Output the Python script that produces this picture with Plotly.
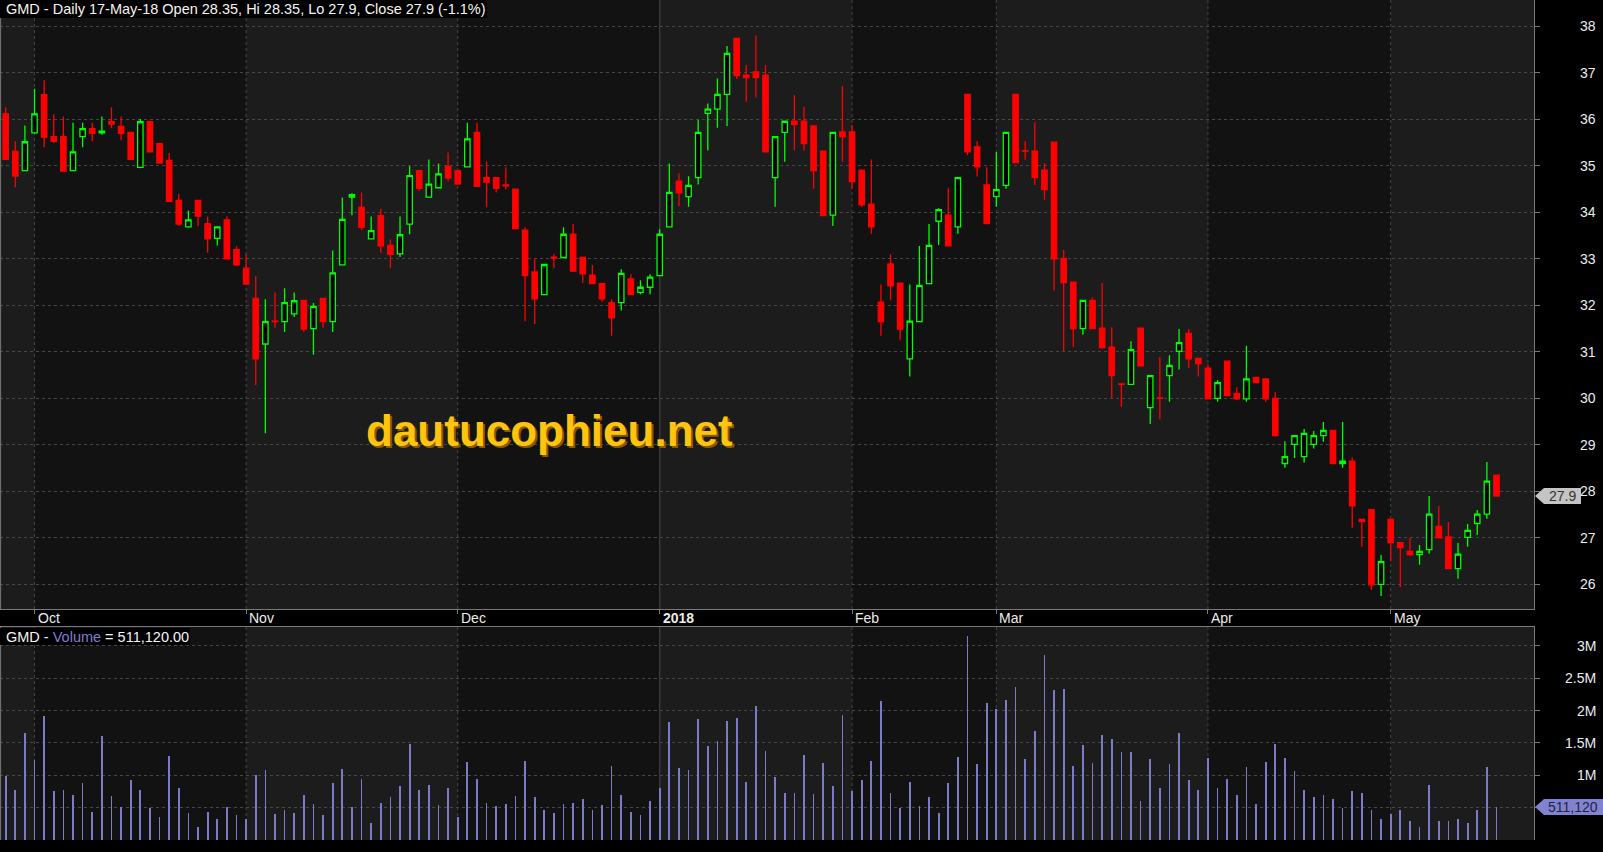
import plotly.graph_objects as go

# ---------------- data (daily bars, index 0 = 27-Sep-2017 ... 155 = 17-May-2018) -------------
opens = [36.12, 35.31, 34.90, 35.71, 36.53, 35.63, 35.63, 34.90, 35.63, 35.80,
         35.71, 35.95, 35.85, 35.72, 34.97, 35.95, 35.48, 35.12, 34.26, 33.69,
         34.26, 33.76, 33.44, 33.84, 33.20, 32.80, 32.15, 31.17, 31.66, 31.65,
         31.82, 32.11, 31.50, 32.15, 31.65, 32.87, 34.33, 34.11, 33.43, 33.93,
         33.29, 33.11, 33.75, 34.90, 34.33, 34.53, 34.99, 34.90, 34.98, 35.72,
         34.75, 34.75, 34.59, 34.50, 33.62, 32.72, 32.23, 33.04, 33.03, 33.53,
         33.03, 32.65, 32.47, 32.06, 32.06, 32.57, 32.28, 32.39, 32.64, 33.69,
         34.67, 34.34, 34.75, 36.13, 36.22, 36.54, 37.74, 36.95, 37.02, 36.95,
         34.75, 35.72, 35.96, 35.96, 35.86, 35.32, 33.94, 35.73, 35.73, 34.91,
         34.18, 32.07, 32.89, 32.48, 30.85, 31.65, 32.47, 33.81, 33.94, 33.69,
         36.54, 35.41, 34.59, 34.34, 34.58, 36.54, 35.33, 35.32, 34.91, 35.51,
         33.01, 32.50, 31.50, 32.11, 31.51, 31.10, 30.31, 30.30, 31.51, 29.80,
         30.01, 30.49, 31.01, 31.40, 30.86, 30.65, 30.00, 30.80, 30.11, 29.99,
         30.45, 30.42, 30.00, 28.60, 29.01, 28.75, 29.01, 29.20, 29.31, 28.60,
         28.65, 27.40, 27.61, 26.00, 27.40, 26.90, 26.71, 26.64, 26.75, 27.25,
         27.02, 26.34, 27.01, 27.31, 27.51, 28.35]
highs = [36.26, 35.53, 35.87, 36.66, 36.84, 36.11, 36.06, 35.93, 35.93, 35.93,
         36.06, 36.26, 36.06, 35.72, 36.01, 35.95, 35.50, 35.28, 34.40, 34.04,
         34.26, 33.91, 33.69, 33.91, 33.27, 33.10, 32.63, 32.13, 32.28, 32.37,
         32.28, 32.11, 32.05, 32.15, 33.18, 34.32, 34.41, 34.43, 33.91, 34.08,
         33.42, 33.91, 35.00, 34.90, 35.14, 35.05, 35.29, 34.90, 35.93, 35.93,
         35.09, 34.75, 34.97, 34.50, 33.68, 33.02, 32.88, 33.10, 33.68, 33.75,
         33.03, 32.87, 32.47, 32.13, 32.78, 32.67, 32.54, 32.67, 33.64, 35.05,
         34.84, 34.78, 35.99, 36.34, 36.88, 37.58, 37.74, 37.17, 37.81, 37.17,
         35.63, 35.96, 36.52, 36.27, 35.87, 35.32, 35.72, 36.72, 35.88, 34.91,
         35.14, 32.45, 33.10, 32.48, 32.45, 33.28, 33.75, 34.09, 34.52, 34.75,
         36.54, 35.53, 34.97, 35.30, 35.72, 36.55, 35.53, 35.94, 35.06, 35.51,
         33.19, 32.50, 32.11, 32.17, 32.48, 31.53, 30.32, 31.23, 31.51, 30.49,
         30.89, 30.93, 31.49, 31.49, 30.86, 30.73, 30.39, 30.80, 30.24, 31.13,
         30.45, 30.42, 30.13, 29.08, 29.20, 29.34, 29.30, 29.49, 29.31, 29.49,
         28.73, 27.40, 27.61, 26.63, 27.40, 26.90, 27.00, 26.85, 27.90, 27.68,
         27.34, 26.89, 27.30, 27.60, 28.63, 28.35]
lows = [35.14, 34.54, 34.90, 35.69, 35.40, 35.49, 34.89, 34.90, 35.40, 35.53,
        35.67, 35.81, 35.55, 35.12, 34.95, 35.30, 35.06, 34.24, 33.71, 33.69,
        33.71, 33.13, 33.29, 33.00, 32.85, 32.46, 30.29, 29.25, 31.52, 31.43,
        31.75, 31.43, 30.94, 31.52, 31.43, 32.87, 33.94, 33.62, 33.43, 33.13,
        32.80, 33.04, 33.53, 34.46, 34.33, 34.53, 34.67, 34.61, 34.98, 34.56,
        34.11, 34.43, 34.50, 33.65, 31.66, 31.60, 32.23, 32.80, 33.03, 32.72,
        32.48, 32.47, 32.08, 31.35, 31.89, 32.23, 32.24, 32.24, 32.64, 33.69,
        34.14, 34.12, 34.60, 35.33, 35.82, 35.86, 36.87, 36.38, 36.47, 35.30,
        34.12, 35.09, 35.33, 35.33, 34.51, 33.93, 33.71, 35.09, 34.51, 34.12,
        33.54, 31.35, 32.11, 31.25, 30.47, 31.65, 32.47, 33.30, 33.28, 33.54,
        35.23, 34.77, 33.76, 34.12, 34.51, 35.07, 35.13, 34.59, 34.27, 32.32,
        31.02, 31.11, 31.37, 31.50, 31.07, 30.01, 29.82, 30.30, 30.70, 29.45,
        29.55, 29.93, 30.62, 30.66, 30.47, 29.99, 29.93, 30.06, 29.96, 29.93,
        30.34, 29.93, 29.18, 28.51, 28.72, 28.62, 28.92, 29.07, 28.60, 28.51,
        27.22, 26.81, 25.88, 25.75, 26.50, 25.94, 26.61, 26.42, 26.66, 27.00,
        26.34, 26.12, 26.81, 27.06, 27.41, 27.90]
closes = [35.14, 34.78, 35.52, 36.12, 35.62, 35.53, 34.89, 35.30, 35.80, 35.70,
          35.75, 35.90, 35.70, 35.14, 35.95, 35.30, 35.06, 34.24, 33.75, 33.84,
          33.92, 33.43, 33.69, 33.00, 32.87, 32.46, 30.85, 31.65, 31.65, 32.06,
          32.10, 31.49, 31.98, 31.65, 32.70, 33.85, 34.38, 33.68, 33.61, 33.28,
          33.10, 33.52, 34.79, 34.52, 34.61, 34.83, 34.74, 34.61, 35.58, 34.56,
          34.65, 34.52, 34.57, 33.65, 32.64, 32.14, 32.88, 33.02, 33.53, 32.74,
          32.68, 32.47, 32.14, 31.73, 32.69, 32.23, 32.39, 32.61, 33.53, 34.43,
          34.42, 34.58, 35.72, 36.22, 36.54, 37.42, 36.94, 36.90, 36.90, 35.30,
          35.63, 35.96, 35.89, 35.48, 34.90, 33.93, 35.72, 35.63, 34.66, 34.16,
          33.69, 31.65, 32.42, 31.49, 31.66, 32.43, 33.29, 34.06, 33.28, 34.75,
          35.30, 34.98, 33.76, 34.49, 35.72, 35.07, 35.32, 34.75, 34.49, 33.00,
          32.49, 31.50, 32.11, 31.50, 31.09, 30.49, 30.30, 31.05, 30.70, 30.49,
          30.00, 30.71, 31.20, 30.85, 30.75, 29.99, 30.34, 30.06, 29.99, 30.42,
          30.34, 29.99, 29.20, 28.75, 29.20, 29.25, 29.20, 29.31, 28.60, 28.65,
          27.69, 27.35, 25.99, 26.49, 26.90, 26.79, 26.64, 26.71, 27.51, 27.00,
          26.34, 26.65, 27.16, 27.51, 28.22, 27.90]
volumes = [990000, 780000, 1660000, 1230000, 1910000, 750000, 780000, 690000, 880000, 440000,
           1600000, 680000, 510000, 920000, 770000, 490000, 350000, 1290000, 810000, 410000,
           200000, 440000, 320000, 510000, 380000, 320000, 1000000, 1080000, 400000, 460000,
           420000, 690000, 550000, 380000, 880000, 1090000, 510000, 940000, 270000, 570000,
           660000, 830000, 1480000, 780000, 850000, 540000, 810000, 350000, 1200000, 940000,
           570000, 520000, 550000, 680000, 1220000, 660000, 460000, 410000, 550000, 570000,
           630000, 470000, 540000, 1150000, 690000, 440000, 380000, 600000, 810000, 1820000,
           1110000, 1080000, 1870000, 1450000, 1530000, 1840000, 1880000, 890000, 2070000, 1370000,
           970000, 720000, 720000, 1320000, 710000, 1190000, 830000, 1930000, 750000, 920000,
           1220000, 2140000, 720000, 490000, 890000, 520000, 660000, 410000, 880000, 1280000,
           3150000, 1170000, 2110000, 2020000, 2160000, 2360000, 1250000, 1680000, 2860000, 2310000,
           2330000, 1140000, 1460000, 1190000, 1620000, 1560000, 1360000, 1360000, 600000, 1250000,
           800000, 1170000, 1660000, 920000, 770000, 1260000, 810000, 940000, 690000, 1120000,
           550000, 1200000, 1490000, 1260000, 1060000, 780000, 660000, 690000, 640000, 490000,
           750000, 720000, 470000, 320000, 400000, 470000, 290000, 200000, 850000, 290000,
           300000, 320000, 260000, 470000, 1120000, 511120]

month_start_idx = [3, 25, 47, 68, 88, 103, 125, 144]
month_labels = ["Oct", "Nov", "Dec", "2018", "Feb", "Mar", "Apr", "May"]
year_label = "2018"
price_ticks = [26, 27, 28, 29, 30, 31, 32, 33, 34, 35, 36, 37, 38]
vol_grid = [500000, 1000000, 1500000, 2000000, 2500000, 3000000]
vol_tick_vals = [1000000, 1500000, 2000000, 2500000, 3000000]
vol_tick_text = ["1M", "1.5M", "2M", "2.5M", "3M"]
title_text = "GMD - Daily 17-May-18 Open 28.35, Hi 28.35, Lo 27.9, Close 27.9 (-1.1%)"
last_close = 27.9
last_close_text = "27.9"
last_volume = 511120
last_volume_text = "511,120"
volume_header = 'GMD - <span style="color:#7f7fd0">Volume</span> = 511,120.00'
watermark = "dautucophieu.net"

# ---------------- geometry / style ----------------
W, H = 1603, 852
ML, MR, MT, MB = 0, 69, 0, 12
PW = W - ML - MR            # plot width in px
PH = H - MT - MB            # plot height in px
XR = [-0.59, 158.9]
PRICE_DOM = [(PH - 609) / PH, 1.0]
VOL_DOM = [0.0, (PH - 627) / PH]
PRICE_RANGE = [25.471, 38.568]
VOL_RANGE = [0, 3.29e6]
FONT = "Liberation Sans, Arial, sans-serif"
GRID = "#464646"
LIGHT_BG = "#1c1c1c"
DARK_BG = "#121212"
AXIS_LINE = "#7a7a7a"
TXT = "#ececec"


def px_x(px):
    return px / PW


def px_y(px):
    return (PH - px) / PH


x = list(range(len(opens)))

fig = go.Figure()
fig.add_trace(go.Candlestick(
    x=x, open=opens, high=highs, low=lows, close=closes,
    increasing=dict(line=dict(color="#00ff00", width=1.3), fillcolor="#000000"),
    decreasing=dict(line=dict(color="#ff0000", width=1.3), fillcolor="#ff0000"),
    whiskerwidth=0, xaxis="x", yaxis="y", showlegend=False, hoverinfo="skip"))
fig.add_trace(go.Bar(
    x=x, y=volumes, width=0.18, marker=dict(color="#7b7bc8", line=dict(width=0)),
    xaxis="x2", yaxis="y2", showlegend=False, hoverinfo="skip"))

shapes = []
bounds = [-1] + month_start_idx + [170]
for k in range(len(bounds) - 1):
    if k % 2 == 0:
        for xr, yr in (("x", "y domain"), ("x2", "y2 domain")):
            shapes.append(dict(type="rect", xref=xr, yref=yr, x0=bounds[k], x1=bounds[k + 1],
                               y0=0, y1=1, fillcolor=LIGHT_BG, line=dict(width=0), layer="below"))
for idx, lab in zip(month_start_idx, month_labels):
    for xr, yr in (("x", "y domain"), ("x2", "y2 domain")):
        if lab == year_label:
            ln = dict(color="#3e3e3e", width=1.3)
        else:
            ln = dict(color=GRID, width=1, dash="dot")
        shapes.append(dict(type="line", xref=xr, yref=yr, x0=idx, x1=idx, y0=0, y1=1,
                           line=ln, layer="below"))
# panel left borders
shapes.append(dict(type="line", xref="paper", yref="paper", x0=0.0004, x1=0.0004,
                   y0=PRICE_DOM[0], y1=1, line=dict(color=AXIS_LINE, width=1)))
shapes.append(dict(type="line", xref="paper", yref="paper", x0=0.0004, x1=0.0004,
                   y0=0, y1=VOL_DOM[1], line=dict(color=AXIS_LINE, width=1)))
# title backgrounds
shapes.append(dict(type="rect", xref="paper", yref="paper", x0=0, x1=px_x(487),
                   y0=px_y(18), y1=1, fillcolor="#000000", line=dict(width=0), layer="above"))
shapes.append(dict(type="rect", xref="paper", yref="paper", x0=0, x1=px_x(190),
                   y0=px_y(645), y1=px_y(628), fillcolor="#000000", line=dict(width=0), layer="above"))
# last value tags
ph = 8 / 46.5
shapes.append(dict(type="path", xref="paper", yref="y",
                   path=f"M {px_x(1535)},{last_close} L {px_x(1544)},{last_close + ph} "
                        f"L {px_x(1581)},{last_close + ph} L {px_x(1581)},{last_close - ph} "
                        f"L {px_x(1544)},{last_close - ph} Z",
                   fillcolor="#c4c4c4", line=dict(width=0), layer="above"))
vh = 8 / 64.74 * 1e6
shapes.append(dict(type="path", xref="paper", yref="y2",
                   path=f"M {px_x(1535)},{last_volume} L {px_x(1544)},{last_volume + vh} "
                        f"L {px_x(1603)},{last_volume + vh} L {px_x(1603)},{last_volume - vh} "
                        f"L {px_x(1544)},{last_volume - vh} Z",
                   fillcolor="#8282d2", line=dict(width=0), layer="above"))

ann = []
ann.append(dict(text=title_text, xref="paper", yref="paper", x=px_x(4), y=px_y(9),
                xanchor="left", yanchor="middle", showarrow=False,
                font=dict(family=FONT, size=14.5, color="#f4f4f4")))
ann.append(dict(text=volume_header, xref="paper", yref="paper", x=px_x(4), y=px_y(636.5),
                xanchor="left", yanchor="middle", showarrow=False,
                font=dict(family=FONT, size=14.5, color="#f4f4f4")))
for p in price_ticks:
    ann.append(dict(text=str(p), xref="paper", yref="y", x=px_x(1598), y=p,
                    xanchor="right", yanchor="middle", showarrow=False,
                    font=dict(family=FONT, size=14, color=TXT)))
for v, t in zip(vol_tick_vals, vol_tick_text):
    ann.append(dict(text=t, xref="paper", yref="y2", x=px_x(1598), y=v,
                    xanchor="right", yanchor="middle", showarrow=False,
                    font=dict(family=FONT, size=14, color=TXT)))
ann.append(dict(text=last_close_text, xref="paper", yref="y", x=px_x(1562), y=last_close,
                xanchor="center", yanchor="middle", showarrow=False,
                font=dict(family=FONT, size=14, color="#333333")))
ann.append(dict(text=last_volume_text, xref="paper", yref="y2", x=px_x(1600), y=last_volume,
                xanchor="right", yanchor="middle", showarrow=False,
                font=dict(family=FONT, size=14, color="#222244")))
for idx, lab in zip(month_start_idx, month_labels):
    bold = lab == year_label
    ann.append(dict(text=f"<b>{lab}</b>" if bold else lab, xref="x", yref="paper", x=idx,
                    y=px_y(618), xanchor="left", yanchor="middle", xshift=1, showarrow=False,
                    font=dict(family=FONT, size=14, color=TXT)))
# watermark (shadow + face)
for dx, col in ((1.5, "#8a5a00"), (0, "#ffc40e")):
    ann.append(dict(text=f"<b>{watermark}</b>", xref="paper", yref="y", x=px_x(364), y=29.3,
                    xanchor="left", yanchor="middle", xshift=dx, yshift=-dx, showarrow=False,
                    font=dict(family="Liberation Sans, Arial, sans-serif", size=44, color=col)))

fig.update_layout(
    width=W, height=H, margin=dict(l=ML, r=MR, t=MT, b=MB),
    paper_bgcolor="#000000", plot_bgcolor=DARK_BG,
    boxgap=0.2, bargap=0, showlegend=False, hovermode=False,
    font=dict(family=FONT, color=TXT),
    xaxis=dict(domain=[0, 1], range=XR, anchor="y", rangeslider=dict(visible=False),
               showgrid=False, zeroline=False, tickvals=month_start_idx, showticklabels=False,
               ticks="outside", ticklen=4, tickcolor=AXIS_LINE, showline=True,
               linecolor=AXIS_LINE, linewidth=1),
    yaxis=dict(domain=PRICE_DOM, range=PRICE_RANGE, side="right", anchor="x",
               tickvals=price_ticks, showticklabels=False, ticks="outside", ticklen=5,
               tickcolor=AXIS_LINE, showgrid=True, gridcolor=GRID, griddash="dot", gridwidth=1,
               zeroline=False, showline=True, linecolor=AXIS_LINE, linewidth=1),
    xaxis2=dict(domain=[0, 1], range=XR, anchor="y2", side="top", showgrid=False,
                zeroline=False, showticklabels=False, ticks="", showline=True,
                linecolor=AXIS_LINE, linewidth=1),
    yaxis2=dict(domain=VOL_DOM, range=VOL_RANGE, side="right", anchor="x2",
                tickvals=vol_grid, showticklabels=False, ticks="outside", ticklen=5,
                tickcolor=AXIS_LINE, showgrid=True, gridcolor=GRID, griddash="dot", gridwidth=1,
                zeroline=False, showline=True, linecolor=AXIS_LINE, linewidth=1),
    shapes=shapes, annotations=ann,
)

fig.write_html("out.html", config={"displayModeBar": False, "staticPlot": True},
               post_script="document.body.style.margin='0px';document.body.style.overflow='hidden';")
